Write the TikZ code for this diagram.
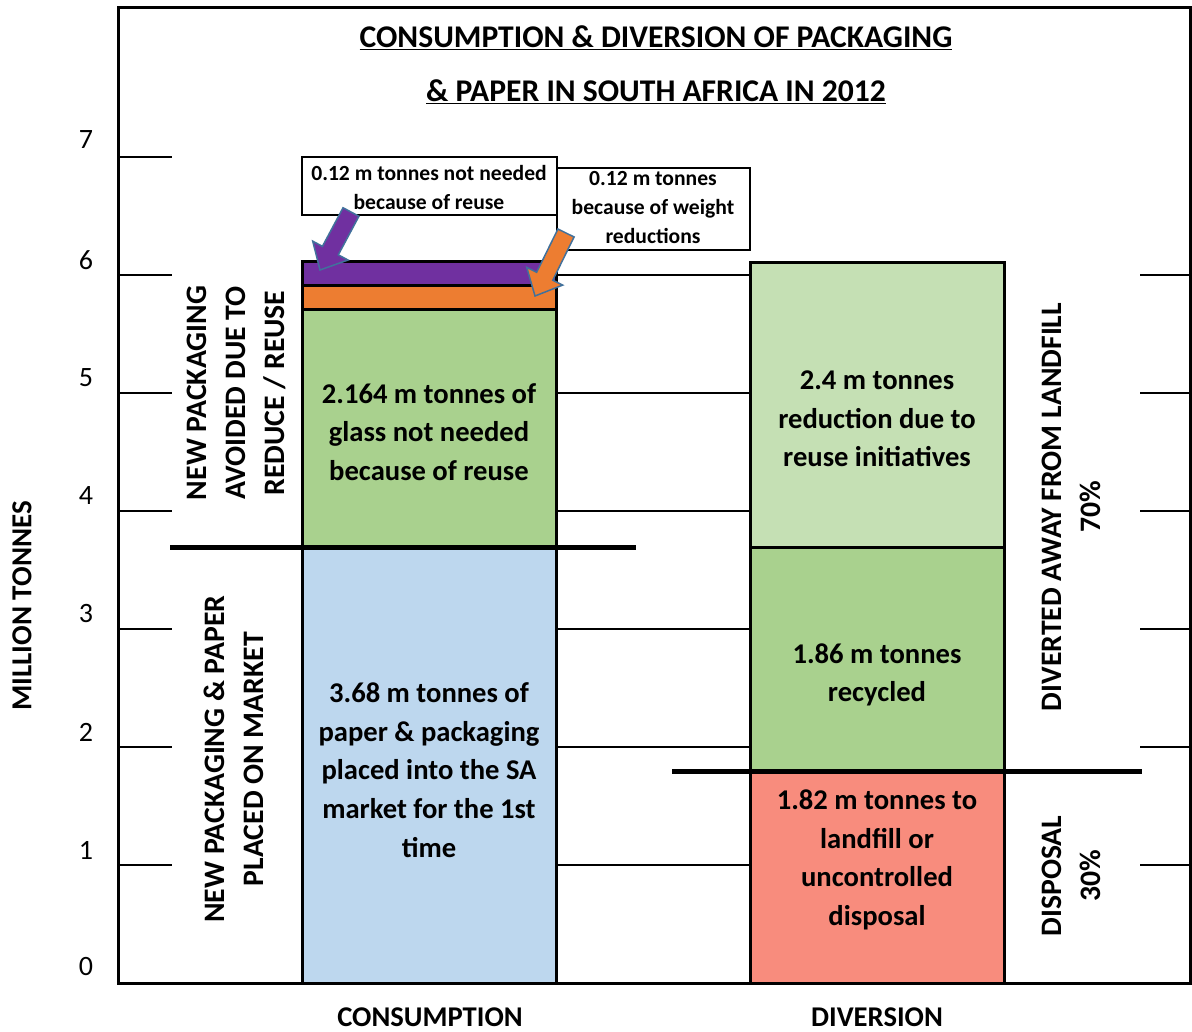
\documentclass[tikz,border=0pt]{standalone}
\usepackage{fontspec}
\setmainfont{Carlito}
\usetikzlibrary{calc}
\definecolor{cpurple}{HTML}{7030A0}
\definecolor{corange}{HTML}{ED7D31}
\definecolor{cgreen}{HTML}{A9D18E}
\definecolor{clgreen}{HTML}{C5E0B4}
\definecolor{cblue}{HTML}{BDD7EE}
\definecolor{cred}{HTML}{F88C7D}
\definecolor{arrline}{HTML}{41719C}
\begin{document}
\begin{tikzpicture}[x=1pt,y=-1pt,
  barseg/.style={draw=black,line width=3pt},
  gridline/.style={line width=2pt},
  sepline/.style={line width=5pt},
  bartext/.style={font=\fontsize{28.6}{38.7}\selectfont\bfseries,align=center,inner sep=0pt},
  notetext/.style={font=\fontsize{21.6}{29}\selectfont\bfseries,align=center,inner sep=0pt},
  sidetext/.style={font=\fontsize{29.7}{39}\selectfont\bfseries,align=center,inner sep=0pt,rotate=90},
  axnum/.style={font=\fontsize{28}{30}\selectfont,inner sep=0pt},
  titletext/.style={font=\fontsize{31.6}{34}\selectfont\bfseries,inner sep=0pt},
  cattext/.style={font=\fontsize{28.6}{30}\selectfont\bfseries,inner sep=0pt,anchor=base},
  notebox/.style={draw=black,line width=2pt,fill=white},
  blockarrow/.style={draw=arrline,line width=1.5pt,line join=miter}
]
\useasboundingbox (0,0) rectangle (1192,1032);
\fill[white] (0,0) rectangle (1192,1032);

% left ticks
\foreach \yy in {157,275,393,511,629,747,865}
  \draw[gridline] (118,\yy) -- (172,\yy);
% gridlines between bars
\foreach \yy in {275,393,511,629,747,865}
  \draw[gridline] (556,\yy) -- (750,\yy);
% right ticks
\foreach \yy in {275,393,511,629,747,865}
  \draw[gridline] (1140,\yy) -- (1190,\yy);

% axis numbers
\foreach \v/\yy in {7/140,6/260,5/378,4/496,3/614,2/732,1/850,0/967}
  \node[axnum] (n\v) at (86,\yy) {\v};

% consumption bar
\draw[barseg,fill=cblue] (302,547) rectangle (556,983);
\draw[barseg,fill=cgreen] (302,310) rectangle (556,547);
\draw[barseg,fill=corange] (302,286) rectangle (556,310);
\draw[barseg,fill=cpurple] (302,262) rectangle (556,286);

% diversion bar
\draw[barseg,fill=cred] (750,771) rectangle (1004,983);
\draw[barseg,fill=cgreen] (750,547) rectangle (1004,771);
\draw[barseg,fill=clgreen] (750,263) rectangle (1004,547);

% separators
\draw[sepline] (170,547) -- (636,547);
\draw[sepline] (672,771) -- (1142,771);

% frame
\draw[line width=3pt] (118,8) rectangle (1190,983);

% bar texts
\node[bartext] (tglass) at (429,432) {2.164 m tonnes of\\glass not needed\\because of reuse};
\node[bartext] (tpaper) at (429,770) {3.68 m tonnes of\\paper \& packaging\\placed into the SA\\market for the 1st\\time};
\node[bartext] (treuse) at (877,419) {2.4 m tonnes\\reduction due to\\reuse initiatives};
\node[bartext] (trecyc) at (877,675) {1.86 m tonnes\\recycled};
\node[bartext] (tland) at (877,860) {1.82 m tonnes to\\landfill or\\uncontrolled\\disposal};

% note boxes
\draw[notebox] (302,157) rectangle (557,215);
\node[notetext] (note1) at (429,188) {0.12 m tonnes not needed\\because of reuse};
\draw[notebox] (557,168) rectangle (750,250);
\node[notetext] (note2) at (653,207) {0.12 m tonnes\\because of weight\\reductions};

% purple arrow
\coordinate (pT) at (351,212);
\coordinate (pH) at (320,270);
\coordinate (pB) at ($(pH)!22pt!(pT)$);
\draw[blockarrow,fill=cpurple]
  ($(pT)!9pt!90:(pH)$) -- ($(pB)!9pt!-90:(pT)$) -- ($(pB)!20pt!-90:(pT)$) -- (pH)
  -- ($(pB)!20pt!90:(pT)$) -- ($(pB)!9pt!90:(pT)$) -- ($(pT)!9pt!-90:(pH)$) -- cycle;

% orange arrow
\coordinate (oT) at (566,233);
\coordinate (oH) at (535,296);
\coordinate (oB) at ($(oH)!22pt!(oT)$);
\draw[blockarrow,fill=corange]
  ($(oT)!9pt!90:(oH)$) -- ($(oB)!9pt!-90:(oT)$) -- ($(oB)!20pt!-90:(oT)$) -- (oH)
  -- ($(oB)!20pt!90:(oT)$) -- ($(oB)!9pt!90:(oT)$) -- ($(oT)!9pt!-90:(oH)$) -- cycle;

% title
\node[titletext] (title1) at (656,38) {\underline{CONSUMPTION \& DIVERSION OF PACKAGING}};
\node[titletext] (title2) at (656,92) {\underline{\& PAPER IN SOUTH AFRICA IN 2012}};

% side labels
\node[sidetext,font=\fontsize{29}{39}\selectfont\bfseries] (ylab) at (22,606) {MILLION TONNES};
\node[sidetext] (avoided) at (236,393) {NEW PACKAGING\\AVOIDED DUE TO\\REDUCE / REUSE};
\node[sidetext] (placed) at (234,759) {NEW PACKAGING \& PAPER\\PLACED ON MARKET};
\node[sidetext] (diverted) at (1071,507) {DIVERTED AWAY FROM LANDFILL\\70\%};
\node[sidetext] (disposal) at (1071,876) {DISPOSAL\\30\%};

% category labels
\node[cattext] (ccons) at (430,1026) {CONSUMPTION};
\node[cattext] (cdiv) at (877,1026) {DIVERSION};
\end{tikzpicture}
\end{document}
